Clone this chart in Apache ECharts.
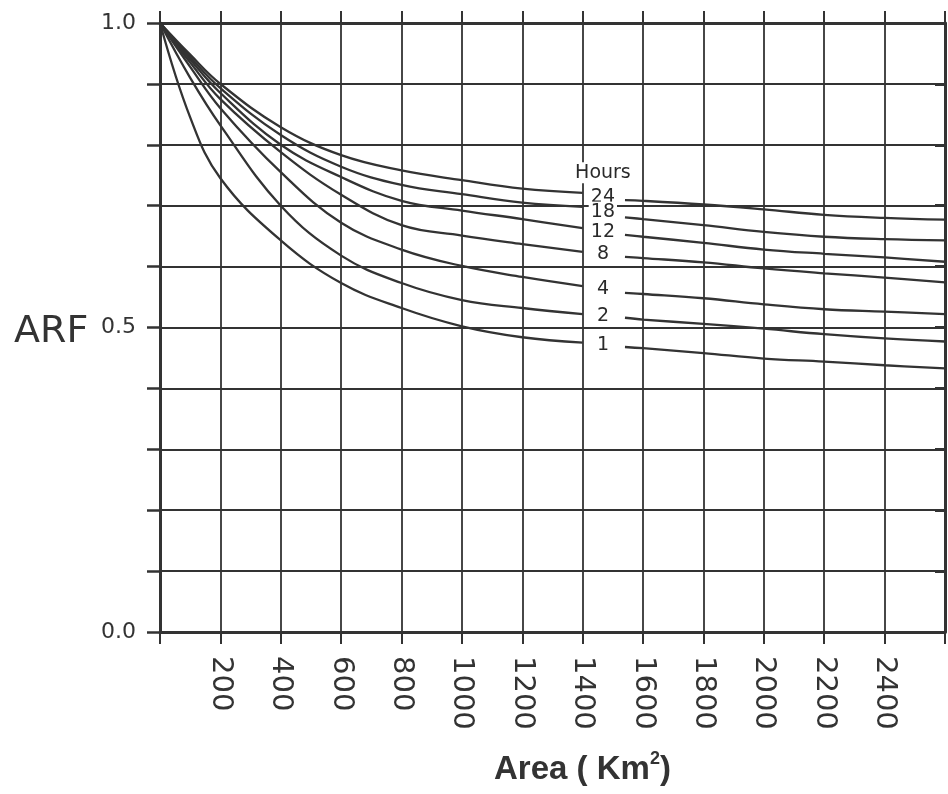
<!DOCTYPE html>
<html><head><meta charset="utf-8">
<script src="https://cdn.jsdelivr.net/npm/echarts@6/dist/echarts.min.js"></script>
<style>html,body{margin:0;padding:0;background:#fff}#c{width:948px;height:794px}</style>
</head><body><div id="c"></div>
<script>
// Area (km^2) sample points; the curves are broken between 1400 and 1540 for the labels
const areas = [0, 100, 200, 400, 600, 800, 1000, 1200, 1400, 1540, 1600, 1800, 2000, 2200, 2400, 2600];
const hours = ['24', '18', '12', '8', '4', '2', '1'];
const arf24 = [1.0, 0.948, 0.900, 0.829, 0.783, 0.758, 0.742, 0.728, 0.721, 0.709, 0.708, 0.702, 0.694, 0.685, 0.680, 0.677];
const arf18 = [1.0, 0.944, 0.893, 0.816, 0.764, 0.734, 0.719, 0.705, 0.698, 0.681, 0.678, 0.668, 0.657, 0.649, 0.645, 0.643];
const arf12 = [1.0, 0.940, 0.885, 0.800, 0.747, 0.708, 0.692, 0.678, 0.663, 0.652, 0.649, 0.639, 0.628, 0.621, 0.615, 0.608];
const arf8  = [1.0, 0.935, 0.875, 0.788, 0.718, 0.668, 0.651, 0.637, 0.624, 0.616, 0.614, 0.607, 0.597, 0.589, 0.582, 0.574];
const arf4  = [1.0, 0.928, 0.860, 0.755, 0.672, 0.628, 0.601, 0.583, 0.568, 0.557, 0.555, 0.548, 0.538, 0.530, 0.526, 0.522];
const arf2  = [1.0, 0.910, 0.832, 0.700, 0.618, 0.573, 0.545, 0.532, 0.522, 0.516, 0.513, 0.506, 0.498, 0.489, 0.482, 0.477];
const arf1  = [1.0, 0.845, 0.745, 0.643, 0.573, 0.532, 0.502, 0.484, 0.475, 0.468, 0.466, 0.458, 0.449, 0.444, 0.438, 0.433];
const xTickLabels = [200, 400, 600, 800, 1000, 1200, 1400, 1600, 1800, 2000, 2200, 2400];
const yTickLabels = [0.0, 0.5, 1.0];
const gapAfter = 1400;      // last area of the left-hand pieces
const labelArea = 1467;     // area where the hour labels sit
const hoursTitleArf = 0.754;

const allSeries = [arf24, arf18, arf12, arf8, arf4, arf2, arf1];
const ink = '#333333';
const font = 'DejaVu Sans';

function lineData(vals) {
  const out = [];
  areas.forEach((a, i) => {
    out.push([a, vals[i]]);
    if (a === gapAfter) out.push([labelArea, null]);
  });
  return out;
}
const gi = areas.indexOf(gapAfter);
const labelData = hours.map((h, k) => [labelArea, (allSeries[k][gi] + allSeries[k][gi + 1]) / 2, h]);
labelData.push([labelArea, hoursTitleArf, 'Hours']);

const series = allSeries.map((vals, k) => ({
  name: hours[k] + ' h', type: 'line', data: lineData(vals), smooth: 0.4,
  showSymbol: false, connectNulls: false, lineStyle: { color: ink, width: 2.3 }, z: 3
}));
series.push({
  type: 'scatter', data: labelData, symbolSize: 0, z: 5, silent: true,
  itemStyle: { opacity: 1 },
  label: { show: true, position: 'inside', formatter: p => p.value[2], fontFamily: font, fontSize: 19,
    color: '#2a2a2a', opacity: 1, backgroundColor: '#fff', padding: [1, 2], lineHeight: 19 }
});

const chart = echarts.init(document.getElementById('c'), null, { renderer: 'canvas' });
chart.setOption({
  animation: false,
  backgroundColor: '#fff',
  grid: { left: 160, top: 23, right: 3, bottom: 162, containLabel: false },
  title: [
    { text: 'ARF', left: 9, top: 308, textStyle: { fontFamily: font, fontSize: 38, fontWeight: 'normal', color: ink } },
    { text: '{a|Area ( Km}{s|2}{a|)}', left: 489, top: 745,
      textStyle: { rich: {
        a: { fontFamily: 'Liberation Sans', fontSize: 33, color: ink, fontWeight: 'bold', verticalAlign: 'bottom' },
        s: { fontFamily: 'Liberation Sans', fontSize: 18, color: ink, verticalAlign: 'top', padding: [0, 0, 18, 0] } } } }
  ],
  xAxis: [
    { type: 'value', min: 0, max: 2600, interval: 200, position: 'bottom',
      axisLine: { show: true, onZero: false, lineStyle: { color: ink, width: 3 } },
      axisTick: { show: true, inside: false, length: 12, lineStyle: { color: ink, width: 2 } },
      splitLine: { show: true, lineStyle: { color: ink, width: 1.8 } },
      axisLabel: { rotate: -90, margin: 24, fontFamily: font, fontSize: 29, color: ink,
        formatter: v => xTickLabels.includes(v) ? String(v) : '' } },
    { type: 'value', min: 0, max: 2600, interval: 200, position: 'top',
      axisLine: { show: true, onZero: false, lineStyle: { color: ink, width: 3 } },
      axisTick: { show: true, inside: false, length: 12, lineStyle: { color: ink, width: 2 } },
      splitLine: { show: false }, axisLabel: { show: false } }
  ],
  yAxis: [
    { type: 'value', min: 0, max: 1, interval: 0.1, position: 'left',
      axisLine: { show: true, onZero: false, lineStyle: { color: ink, width: 3 } },
      axisTick: { show: true, inside: false, length: 13, lineStyle: { color: ink, width: 2.5 } },
      splitLine: { show: true, lineStyle: { color: ink, width: 1.8 } },
      axisLabel: { margin: 24, fontFamily: font, fontSize: 22, color: ink,
        formatter: v => yTickLabels.some(t => Math.abs(t - v) < 1e-9) ? v.toFixed(1) : '' } },
    { type: 'value', min: 0, max: 1, interval: 0.1, position: 'right',
      axisLine: { show: true, onZero: false, lineStyle: { color: ink, width: 3 } },
      axisTick: { show: true, inside: true, length: 10, lineStyle: { color: ink, width: 3 } },
      splitLine: { show: false }, axisLabel: { show: false } }
  ],
  series: series
});
</script></body></html>
